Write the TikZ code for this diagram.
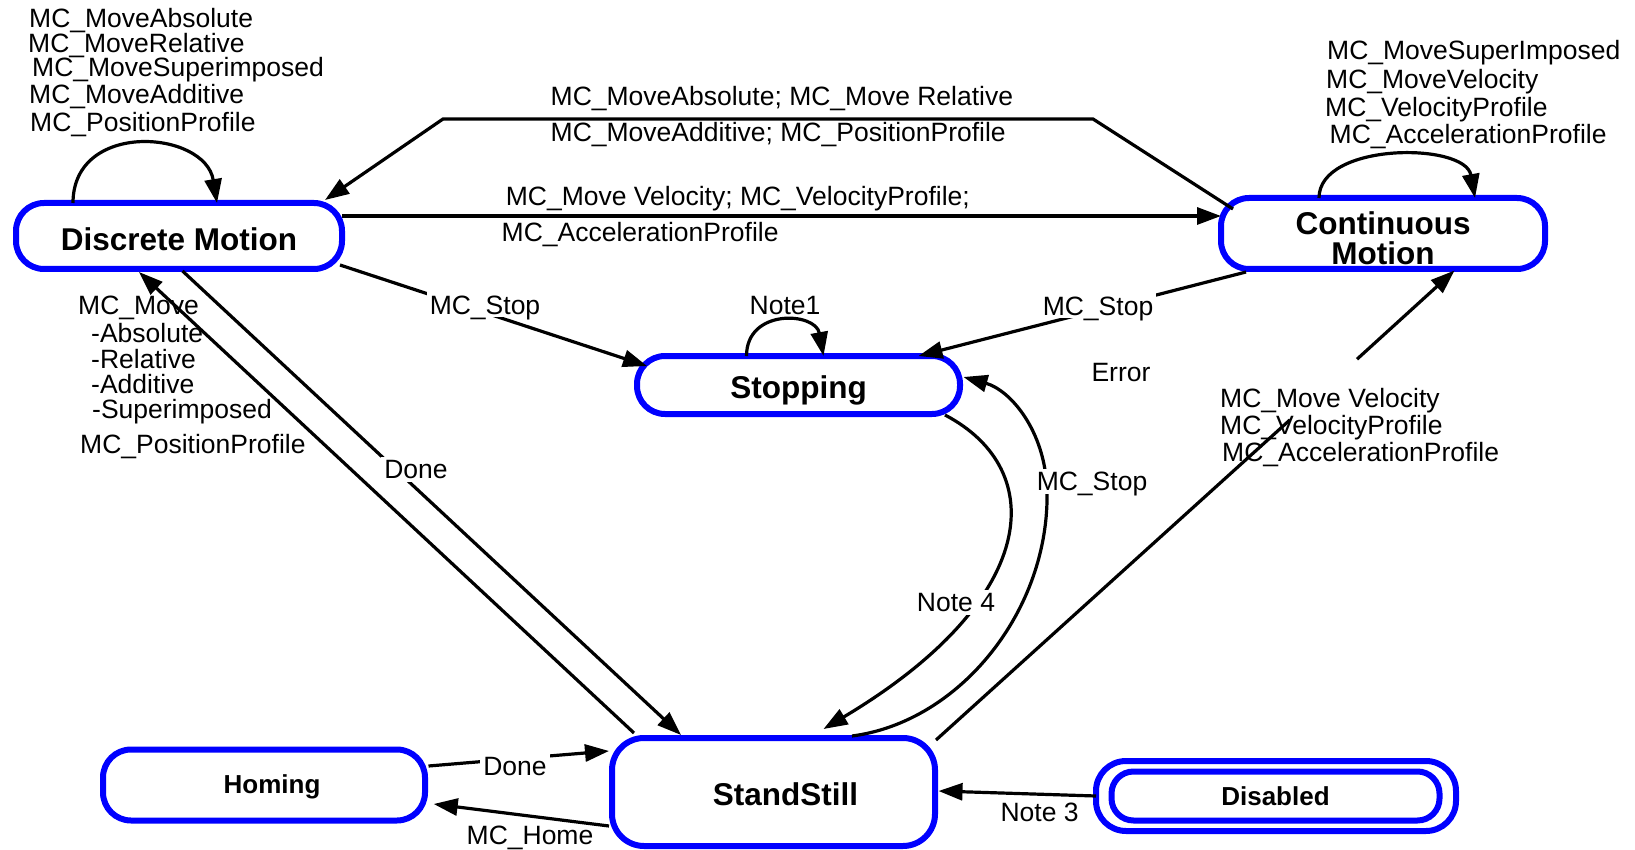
\documentclass[tikz,border=0pt]{standalone}
\usepackage{fontspec}
\setmainfont{Liberation Sans}
\usetikzlibrary{arrows.meta,calc}
\definecolor{stateblue}{RGB}{0,0,255}

\begin{document}
\begin{tikzpicture}[x=1pt,y=-1pt,
  state/.style={draw=stateblue, line width=6pt, rounded corners=28pt, inner sep=0pt, outer sep=0pt,
    font=\bfseries\fontsize{31.5}{30}\selectfont, align=center},
  smallstate/.style={state, font=\bfseries\fontsize{26}{30}\selectfont},
  conn/.style={line width=3.2pt, -{Triangle[length=24pt,width=17pt]}},
  plain/.style={line width=3.2pt},
  lbl/.style={font=\fontsize{26.5}{30}\selectfont, inner sep=0pt, text height=19pt, text depth=0pt},
  cut/.style={lbl, fill=white, inner sep=3pt},
]
\useasboundingbox (0,0) rectangle (1635,850);

% states
\node[state, minimum width=326pt, minimum height=66pt] (dm) at (179,236) {\rule{0pt}{29pt}Discrete Motion};
\node[state, minimum width=324pt, minimum height=71pt] (cm) at (1383,233.5) {\rule{0pt}{32pt}Continuous\\Motion};
\node[state, minimum width=323pt, minimum height=58pt] (st) at (798.5,385) {\rule{0pt}{33pt}Stopping};
\node[state, minimum width=323pt, minimum height=108pt, rounded corners=32pt] (ss) at (773.5,792) {\rule{0pt}{28pt}\hspace*{24pt}StandStill};
\node[smallstate, minimum width=322pt, minimum height=71pt] (hm) at (264,785) {\rule{0pt}{22pt}\hspace*{16pt}Homing};
\node[smallstate, minimum width=328pt, minimum height=49pt, rounded corners=22pt] (ds) at (1275.5,796) {Disabled};
\node[draw=stateblue, line width=6pt, rounded corners=30pt, inner sep=0pt, outer sep=0pt,
  minimum width=360pt, minimum height=70pt] (dso) at (1276,796) {};

% bend points and free ends
\coordinate (bendA) at (1093,119);
\coordinate (bendB) at (443,119);
\coordinate (gapA) at (1290,419.8);
\coordinate (gapB) at (1357,359.2);
\coordinate (bendS) at (1047,490);

% self loops
\draw[conn] ($(dm.center)+(-106,-33)$) .. controls +(0,-83) and +(-12,-73) .. ($(dm.center)+(38,-33)$);
\draw[conn] ($(cm.center)+(-64,-35.5)$) .. controls +(0,-56) and +(-10,-56) .. ($(cm.center)+(92,-35.5)$);
\draw[conn] ($(st.center)+(-52,-29)$) .. controls +(0,-48) and +(-8,-44) .. ($(st.center)+(25,-29)$);

% continuous motion -> discrete motion
\draw[conn] ($(cm.center)+(-150,-24.5)$) -- (bendA) -- (bendB) -- ($(dm.center)+(146,-36)$);
% discrete motion -> continuous motion
\draw[conn] ($(dm.center)+(163,-20)$) -- ($(cm.center)+(-162,-17.5)$);
% to stopping
\draw[conn] ($(dm.center)+(161,29)$) -- ($(st.center)+(-151.5,-19)$);
\draw[conn] ($(cm.center)+(-137,38.5)$) -- ($(st.center)+(120,-29)$);
% discrete motion <-> standstill
\draw[conn] ($(dm.center)+(3.5,35)$) -- ($(ss.center)+(-92.5,-57)$);
\draw[conn] ($(ss.center)+(-139.5,-59)$) -- ($(dm.center)+(-40,36)$);
% standstill -> continuous motion
\draw[plain] ($(ss.center)+(162.5,-52)$) -- (gapA);
\draw[conn] (gapB) -- ($(cm.center)+(71.5,37)$);
% stopping <-> standstill
\draw[conn] ($(st.center)+(146.5,30)$) .. controls (1050,470) and (1040,600) .. ($(ss.center)+(50,-63)$);
\draw[conn] ($(ss.center)+(78.5,-56)$) .. controls (960,722) and (1050,610) .. (bendS)
  .. controls (1045,430) and (1010,390) .. ($(st.center)+(165,-8)$);
% homing <-> standstill
\draw[conn] ($(hm.center)+(164.5,-19)$) -- ($(ss.center)+(-164.5,-41)$);
\draw[conn] ($(ss.center)+(-164.5,34)$) -- ($(hm.center)+(169.7,19)$);
% disabled -> standstill
\draw[conn] (dso.west) -- ($(ss.center)+(165,-1)$);

% labels of the discrete motion loop
\node[lbl, anchor=west] (ldm1) at (29,18) {MC\_MoveAbsolute};
\node[lbl, anchor=west] (ldm2) at (28,43) {MC\_MoveRelative};
\node[lbl, anchor=west] (ldm3) at (32,67) {MC\_MoveSuperimposed};
\node[lbl, anchor=west] (ldm4) at (29,94) {MC\_MoveAdditive};
\node[lbl, anchor=west] (ldm5) at (30,122) {MC\_PositionProfile};

% labels of the continuous motion loop
\node[lbl, anchor=west] (lcm1) at (1327,50) {MC\_MoveSuperImposed};
\node[lbl, anchor=west] (lcm2) at (1326,79) {MC\_MoveVelocity};
\node[lbl, anchor=west] (lcm3) at (1325,107.4) {MC\_VelocityProfile};
\node[lbl, anchor=west] (lcm4) at (1329.5,134.5) {MC\_AccelerationProfile};

% labels between discrete and continuous motion
\node[lbl, anchor=west] (ltop1) at (550.5,96) {MC\_MoveAbsolute; MC\_Move Relative};
\node[lbl, anchor=west] (ltop2) at (550.5,132.5) {MC\_MoveAdditive; MC\_PositionProfile};
\node[lbl, anchor=west] (lhor1) at (505.7,196) {MC\_Move Velocity; MC\_VelocityProfile;};
\node[lbl, anchor=west] (lhor2) at (501.5,232.5) {MC\_AccelerationProfile};

% stopping labels
\node[cut] (lstop1) at (485,304.5) {MC\_Stop};
\node[cut] (lstop2) at (1098,305.5) {MC\_Stop};
\node[lbl] (lnote1) at (785,304.5) {Note1};
\node[lbl] (lerr) at (1121,372) {Error};
\node[cut] (lnote4) at (956,602) {Note 4};
\node[cut] (lstop3) at (1092,481) {MC\_Stop};

% labels of the standstill -> discrete motion transition
\node[lbl, anchor=west] (lmv1) at (78,304.5) {MC\_Move};
\node[lbl, anchor=west] (lmv2) at (91,332.6) {-Absolute};
\node[lbl, anchor=west] (lmv3) at (91,358.7) {-Relative};
\node[lbl, anchor=west] (lmv4) at (91,383.7) {-Additive};
\node[lbl, anchor=west] (lmv5) at (92,408.7) {-Superimposed};
\node[lbl, anchor=west] (lmv6) at (80,444) {MC\_PositionProfile};
\node[cut] (ldone1) at (416,469) {Done};

% labels of the standstill -> continuous motion transition
\node[lbl, anchor=west] (lcv1) at (1220,398) {MC\_Move Velocity};
\node[lbl, anchor=west] (lcv2) at (1220,425.4) {MC\_VelocityProfile};
\node[lbl, anchor=west] (lcv3) at (1222,451.5) {MC\_AccelerationProfile};

% homing and disabled labels
\node[cut] (ldone2) at (515,766) {Done};
\node[lbl] (lhome) at (530,835) {MC\_Home};
\node[lbl] (lnote3) at (1039.6,812) {Note 3};
\end{tikzpicture}
\end{document}
